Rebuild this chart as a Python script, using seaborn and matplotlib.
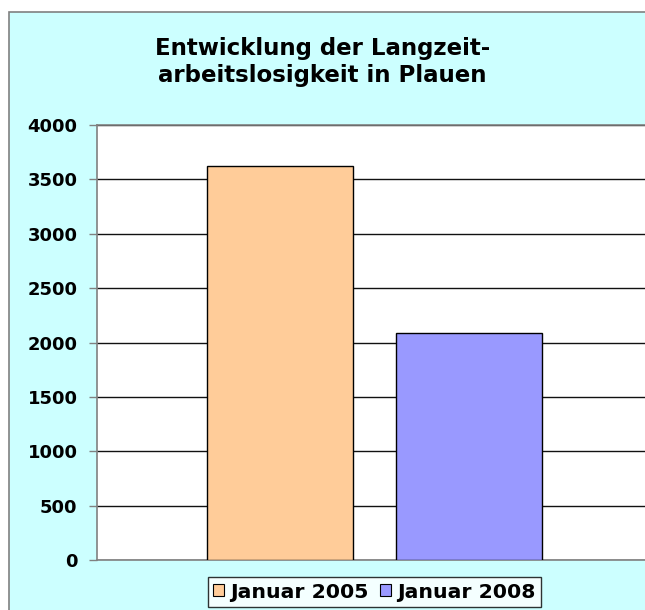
import matplotlib
matplotlib.use("Agg")
import matplotlib.pyplot as plt
from matplotlib.patches import Rectangle, Patch
import seaborn as sns

# data
labels = ["Januar 2005", "Januar 2008"]
values = [3620, 2085]
colors = ["#FFCC99", "#9999FF"]
y_ticks = [0, 500, 1000, 1500, 2000, 2500, 3000, 3500, 4000]

sns.set_style("white")
plt.rcParams["font.family"] = ["DejaVu Sans"]
plt.rcParams["text.color"] = "black"
plt.rcParams["ytick.labelcolor"] = "black"

W, H = 645, 610
fig = plt.figure(figsize=(W / 100, H / 100), dpi=100)
fig.patch.set_facecolor("white")

# cyan chart area with a thin grey frame
fig.patches.append(Rectangle((9 / W, -0.01), 1.0, (H - 12) / H + 0.01,
                             transform=fig.transFigure, facecolor="#CCFFFF",
                             edgecolor="#808080", linewidth=1.2, zorder=-5))

ax = fig.add_axes([97 / W, (H - 560) / H, (652 - 97) / W, (560 - 125) / H])
ax.set_zorder(2)
ax.set_facecolor("white")

sns.barplot(x=labels, y=values, hue=labels, palette=colors, width=0.77,
            saturation=1, edgecolor="black", linewidth=1.0, legend=False,
            ax=ax, zorder=3)

ax.set_ylim(0, 4000)
ax.set_xlim(-0.963, 1.963)
ax.set_yticks(y_ticks)
ax.set_yticklabels([str(v) for v in y_ticks], fontsize=13, fontweight="bold")
ax.set_xticks([])
ax.set_xlabel("")
ax.set_ylabel("")
ax.yaxis.grid(True, color="#111111", linewidth=1.0, zorder=0)
ax.set_axisbelow(True)
ax.tick_params(axis="y", direction="out", length=6, width=1, color="#808080",
               pad=8, left=True)
for side in ["left", "bottom", "top"]:
    ax.spines[side].set_color("#808080")
    ax.spines[side].set_linewidth(1.2)
ax.spines["right"].set_visible(False)

fig.text(322.5 / W, (H - 62) / H, "Entwicklung der Langzeit-\narbeitslosigkeit in Plauen",
         ha="center", va="center", fontsize=16.5, fontweight="bold",
         linespacing=1.2, zorder=3)

handles = [Patch(facecolor=c, edgecolor="black", linewidth=0.8) for c in colors]
leg = fig.legend(handles, labels, loc="center", ncol=2,
                 bbox_to_anchor=(374.5 / W, (H - 592) / H),
                 frameon=True, fancybox=False, edgecolor="black",
                 prop={"size": 14.7, "weight": "bold"},
                 handlelength=0.55, handleheight=0.55, handletextpad=0.3,
                 columnspacing=0.55, borderpad=0.25, borderaxespad=0)
leg.get_frame().set_linewidth(1.0)
leg.get_frame().set_facecolor("white")
leg.set_zorder(4)

fig.savefig("out.png", dpi=100)
